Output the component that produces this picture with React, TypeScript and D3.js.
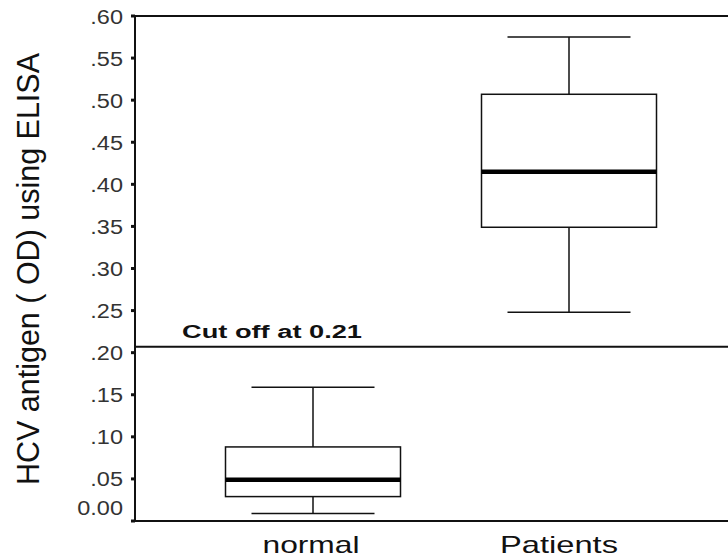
import React from "react";
import * as d3 from "d3";

// groups and their box statistics
const groups = ["normal", "Patients"];
const whiskerLow = [0.009, 0.248];
const q1 = [0.029, 0.349];
const median = [0.049, 0.415];
const q3 = [0.088, 0.507];
const whiskerHigh = [0.159, 0.575];

const yTicks = [0, 0.05, 0.1, 0.15, 0.2, 0.25, 0.3, 0.35, 0.4, 0.45, 0.5, 0.55, 0.6];
const cutoff = 0.207;
const cutoffLabel = "Cut off at 0.21";
const yTitle = "HCV antigen ( OD) using ELISA";

const W = 728,
    H = 560;
const margin = { top: 16, right: -4, bottom: 39, left: 135 };

const App = () => {
    const y = d3.scaleLinear().domain([0, 0.6]).range([H - margin.bottom, margin.top]);
    const x = d3.scalePoint().domain(groups).range([313, 569]);
    const boxW = 175;
    const capW = 123;

    const fmt = (v: number) => (v === 0 ? "0.00" : d3.format(".2f")(v).replace(/^0/, ""));

    return (
        <svg
            width={W}
            height={H}
            style={{ position: "absolute", left: 0, top: 0, background: "#fff" }}
            fontFamily="'Liberation Sans', Arial, sans-serif"
        >
            {/* frame */}
            <line x1={margin.left} x2={W} y1={y(0.6)} y2={y(0.6)} stroke="#111" strokeWidth={2} />
            <line x1={margin.left} x2={W} y1={y(0)} y2={y(0)} stroke="#111" strokeWidth={2} />
            <line x1={margin.left} x2={margin.left} y1={y(0.6)} y2={y(0) + 1} stroke="#111" strokeWidth={2} />

            {/* y ticks */}
            {yTicks.map((t) => (
                <g key={t}>
                    <line x1={margin.left - 4} x2={margin.left} y1={y(t)} y2={y(t)} stroke="#111" strokeWidth={3} />
                    <text
                        x={margin.left - 12}
                        y={t === 0 ? y(t) - 14 : y(t)}
                        dy="0.36em"
                        textAnchor="end"
                        fontSize={21}
                        fill="#333"
                        transform={`translate(${margin.left - 12},0) scale(1.12,1) translate(${-(margin.left - 12)},0)`}
                    >
                        {fmt(t)}
                    </text>
                </g>
            ))}

            {/* y title */}
            <text
                transform={`translate(39, 269) rotate(-90)`}
                textAnchor="middle"
                fontSize={32}
                fill="#111"
                textLength={432}
                lengthAdjust="spacingAndGlyphs"
            >
                {yTitle}
            </text>

            {/* cut off line */}
            <line x1={margin.left} x2={W} y1={y(cutoff)} y2={y(cutoff)} stroke="#111" strokeWidth={2} />
            <text
                x={182}
                y={338}
                fontSize={18}
                fontWeight="bold"
                fill="#111"
                textLength={180}
                lengthAdjust="spacingAndGlyphs"
            >
                {cutoffLabel}
            </text>

            {/* boxes */}
            {groups.map((g, i) => {
                const cx = x(g) as number;
                return (
                    <g key={g} stroke="#111" strokeWidth={1.5} fill="none">
                        <line x1={cx} x2={cx} y1={y(whiskerHigh[i])} y2={y(q3[i])} />
                        <line x1={cx} x2={cx} y1={y(q1[i])} y2={y(whiskerLow[i])} />
                        <line x1={cx - capW / 2} x2={cx + capW / 2} y1={y(whiskerHigh[i])} y2={y(whiskerHigh[i])} />
                        <line x1={cx - capW / 2} x2={cx + capW / 2} y1={y(whiskerLow[i])} y2={y(whiskerLow[i])} />
                        <rect x={cx - boxW / 2} y={y(q3[i])} width={boxW} height={y(q1[i]) - y(q3[i])} fill="#fff" />
                        <line x1={cx - boxW / 2} x2={cx + boxW / 2} y1={y(median[i])} y2={y(median[i])} strokeWidth={4.5} stroke="#000" />
                    </g>
                );
            })}

            {/* x labels */}
            {groups.map((g, i) => (
                <text
                    key={g}
                    x={(x(g) as number) - (i === 1 ? 10 : 2)}
                    y={553}
                    textAnchor="middle"
                    fontSize={24}
                    fill="#111"
                    textLength={i === 1 ? 118 : 97}
                    lengthAdjust="spacingAndGlyphs"
                >
                    {g}
                </text>
            ))}
        </svg>
    );
};

export default App;
